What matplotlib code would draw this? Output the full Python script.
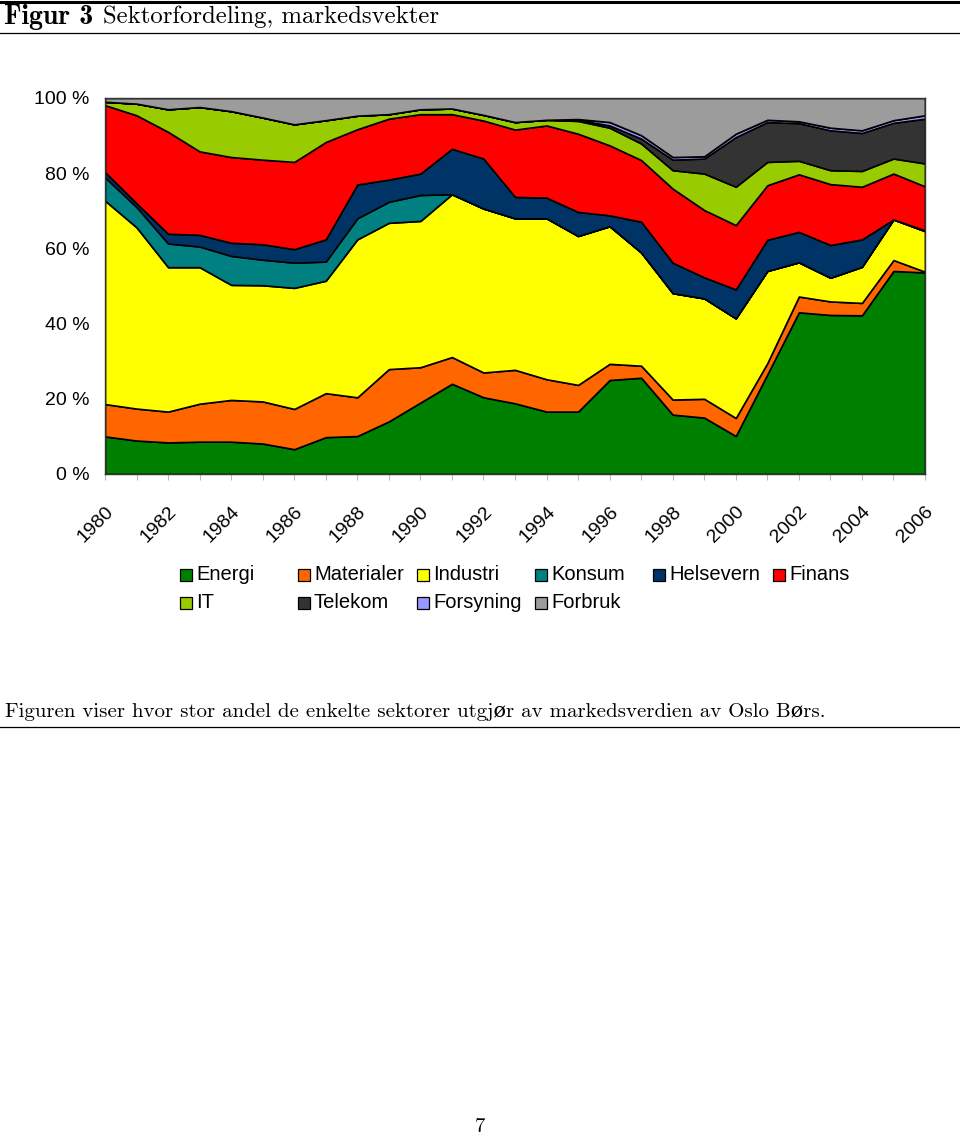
import matplotlib
matplotlib.use("Agg")
import matplotlib.pyplot as plt
from matplotlib.lines import Line2D
from matplotlib.patches import Rectangle

# market weight per sector, % of Oslo Børs
years = list(range(1980, 2007))
energi = [10.0, 8.9, 8.4, 8.6, 8.6, 8.1, 6.6, 9.8, 10.1, 14.0, 19.0, 24.0, 20.4, 18.8,
          16.6, 16.6, 25.0, 25.6, 15.8, 15.0, 10.1, 26.5, 43.0, 42.3, 42.2, 54.0, 53.6]
materialer = [8.6, 8.5, 8.2, 10.1, 11.1, 11.2, 10.7, 11.7, 10.3, 13.9, 9.4, 7.1, 6.6, 8.9,
              8.6, 7.1, 4.3, 3.2, 4.0, 5.0, 4.8, 3.0, 4.2, 3.6, 3.3, 2.9, 0.2]
industri = [54.1, 48.2, 38.4, 36.3, 30.6, 30.9, 32.2, 29.9, 42.0, 38.9, 38.9, 43.3, 43.6, 40.3,
            42.8, 39.6, 36.6, 30.1, 28.3, 26.7, 26.5, 24.5, 9.1, 6.3, 9.6, 10.8, 10.8]
konsum = [6.2, 5.4, 6.3, 5.5, 7.7, 6.8, 6.7, 5.1, 5.6, 5.6, 6.9, 0, 0, 0,
          0, 0, 0, 0, 0, 0, 0, 0, 0, 0, 0, 0, 0]
helsevern = [1.4, 1.0, 2.6, 3.1, 3.5, 4.1, 3.6, 5.9, 9.0, 5.9, 5.7, 12.1, 13.3, 5.7,
             5.5, 6.4, 2.9, 8.2, 8.1, 5.6, 7.7, 8.3, 8.1, 8.7, 7.3, 0.0, 0.2]
finans = [17.8, 23.4, 27.1, 22.2, 22.8, 22.5, 23.2, 25.9, 14.7, 16.2, 15.8, 9.2, 10.1, 17.9,
          19.2, 20.8, 18.6, 16.4, 19.7, 17.9, 17.1, 14.5, 15.3, 16.2, 14.0, 12.2, 11.7]
it = [0.9, 3.1, 6.0, 11.8, 12.2, 11.2, 10.0, 5.8, 3.6, 1.2, 1.3, 1.5, 1.5, 2.0,
      1.5, 3.4, 4.7, 4.4, 4.9, 9.7, 10.2, 6.2, 3.6, 3.7, 4.2, 4.0, 6.1]
telekom = [0, 0, 0, 0, 0, 0, 0, 0, 0, 0, 0, 0, 0, 0,
           0, 0.3, 0.6, 1.3, 2.8, 4.0, 13.2, 10.6, 10.0, 10.6, 10.1, 9.5, 11.9]
forsyning = [0, 0, 0, 0, 0, 0, 0, 0, 0, 0, 0, 0, 0, 0,
             0, 0.2, 0.9, 0.9, 0.7, 0.6, 0.9, 0.6, 0.5, 0.7, 0.7, 0.7, 0.9]
forbruk = [1.0, 1.5, 3.0, 2.4, 3.5, 5.2, 7.0, 5.9, 4.7, 4.3, 3.0, 2.8, 4.5, 6.4,
           5.8, 5.6, 6.4, 9.9, 15.7, 15.5, 9.5, 5.8, 6.2, 7.9, 8.6, 5.9, 4.6]

sectors = ["Energi", "Materialer", "Industri", "Konsum", "Helsevern", "Finans",
           "IT", "Telekom", "Forsyning", "Forbruk"]
series = [energi, materialer, industri, konsum, helsevern, finans,
          it, telekom, forsyning, forbruk]
colors = ["#008000", "#FF6600", "#FFFF00", "#008080", "#003366", "#FF0000",
          "#99CC00", "#333333", "#9999FF", "#9C9C9C"]

W, H = 960, 1139
SERIF = ["cmr10", "DejaVu Serif"]
BOLD_SERIF = ["cmb10", "DejaVu Serif"]
SANS = ["Liberation Sans", "DejaVu Sans"]


def fx(px):
    return px / W


def fy(py):
    return 1 - py / H


fig = plt.figure(figsize=(W / 100, H / 100), dpi=100)

# page header / rules
fig.add_artist(Line2D([0, 1], [fy(1.5)] * 2, color="black", lw=2.2))
fig.add_artist(Line2D([0, 1], [fy(33)] * 2, color="black", lw=0.9))
fig.text(fx(4), fy(17), "Figur 3", family=BOLD_SERIF, fontsize=20, va="center")
fig.text(fx(103), fy(17), "Sektorfordeling, markedsvekter", family=SERIF, fontsize=17.8,
         va="center")

ax = fig.add_axes([fx(105), fy(474), fx(925) - fx(105), fy(98) - fy(474)])
ax.stackplot(years, *series, colors=colors, edgecolor="black", linewidth=1.2)
ax.set_xlim(1980, 2006)
ax.set_ylim(0, 100)

ax.set_yticks(range(0, 101, 20))
ax.set_yticklabels([f"{v} %" for v in range(0, 101, 20)], family=SANS, fontsize=14)
ax.set_xticks(years)
ax.set_xticklabels([str(y) if y % 2 == 0 else "" for y in years], family=SANS, fontsize=14,
                   rotation=45, ha="right", va="top", rotation_mode="anchor")
ax.tick_params(axis="y", length=0, pad=11)
ax.tick_params(axis="x", length=4, color="#bbbbbb", pad=17)
for sp in ax.spines.values():
    sp.set_color("#333333")
    sp.set_linewidth(1.0)

# legend, laid out like the Excel one: fixed-width columns, row by row
col_x = [180, 298, 417, 535, 653, 773]
row_y = [575, 603]
for i, (name, c) in enumerate(zip(sectors, colors)):
    x0 = col_x[i % 6]
    y0 = row_y[i // 6]
    fig.add_artist(Rectangle((fx(x0), fy(y0 + 6)), fx(12), 12 / H, facecolor=c,
                             edgecolor="black", lw=0.9))
    fig.text(fx(x0 + 16), fy(y0), name, family=SANS, fontsize=14.5, va="center")

fig.text(fx(5), fy(712),
         "Figuren viser hvor stor andel de enkelte sektorer utgjør av markedsverdien av Oslo Børs.",
         family=SERIF, fontsize=15, va="center")
fig.add_artist(Line2D([0, 1], [fy(727)] * 2, color="black", lw=0.9))
fig.text(fx(480), fy(1127), "7", family=SERIF, fontsize=15, ha="center", va="center")

fig.savefig("out.png", dpi=100)
